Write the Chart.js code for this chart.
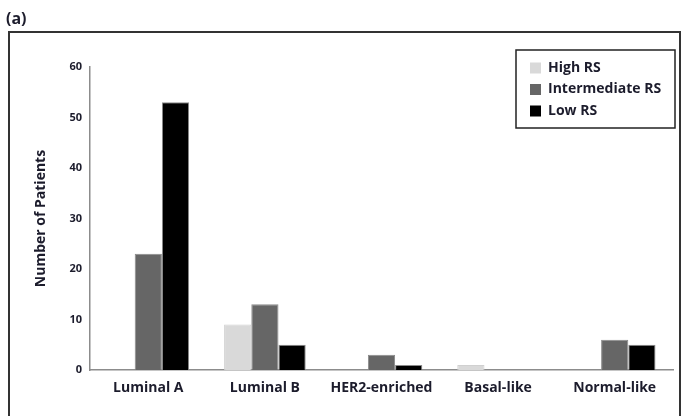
<!DOCTYPE html>
<html>
<head>
<meta charset="utf-8">
<script src="https://cdn.jsdelivr.net/npm/chart.js@4"></script>
<style>
  html, body { margin: 0; padding: 0; background: #fff; }
  #wrap { width: 683px; height: 416px; position: relative; }
</style>
</head>
<body>
<div id="wrap"><canvas id="c" width="683" height="416"></canvas></div>
<script>
// ── Data ──────────────────────────────────────────────────────────────────────
const categories   = ['Luminal A', 'Luminal B', 'HER2-enriched', 'Basal-like', 'Normal-like'];
const highRS       = [0, 9, 0, 1, 0];
const intermediate = [23, 13, 3, 0, 6];
const lowRS        = [53, 5, 1, 0, 5];
const yTicks       = [0, 10, 20, 30, 40, 50, 60];

const FONT = '"Open Sans", Lato, sans-serif';
const TEXT = '#1c1c2c';

// ── Frame + "(a)" label ───────────────────────────────────────────────────────
const framePlugin = {
  id: 'frame',
  beforeDraw(chart) {
    const ctx = chart.ctx;
    ctx.save();
    ctx.fillStyle = '#fff';
    ctx.fillRect(0, 0, chart.width, chart.height);
    ctx.strokeStyle = '#333';
    ctx.lineWidth = 2;
    ctx.strokeRect(9, 32, 671, 400);
    ctx.fillStyle = TEXT;
    ctx.font = 'bold 16px ' + FONT;
    ctx.textBaseline = 'alphabetic';
    ctx.fillText('(a)', 6, 24);
    ctx.restore();
  },
};

// ── Boxed legend, top right ───────────────────────────────────────────────────
const boxLegend = {
  id: 'boxLegend',
  afterDraw(chart) {
    const ctx = chart.ctx;
    const x = 516, y = 50, w = 159, h = 78;
    ctx.save();
    ctx.fillStyle = '#fff';
    ctx.fillRect(x, y, w, h);
    ctx.strokeStyle = '#222';
    ctx.lineWidth = 1.5;
    ctx.strokeRect(x, y, w, h);
    ctx.font = 'bold 14px ' + FONT;
    ctx.textBaseline = 'middle';
    chart.data.datasets.forEach((ds, i) => {
      const cy = 68 + i * 21.5;
      ctx.fillStyle = ds.backgroundColor;
      ctx.fillRect(530, cy - 5.5, 11, 11);
      ctx.fillStyle = TEXT;
      ctx.fillText(ds.label, 548, cy);
    });
    ctx.restore();
  },
};

new Chart(document.getElementById('c'), {
  type: 'bar',
  data: {
    labels: categories,
    datasets: [
      { label: 'High RS',         data: highRS,       backgroundColor: '#d9d9d9', borderColor: '#d0d0d0', borderWidth: 1 },
      { label: 'Intermediate RS', data: intermediate, backgroundColor: '#666666', borderColor: '#8a8a8a', borderWidth: 1 },
      { label: 'Low RS',          data: lowRS,        backgroundColor: '#000000', borderColor: '#8a8a8a', borderWidth: 1 },
    ],
  },
  options: {
    responsive: false,
    animation: false,
    layout: { padding: { left: 33, right: 10, top: 67, bottom: 0 } },
    datasets: { bar: { categoryPercentage: 0.7, barPercentage: 1.0 } },
    plugins: { legend: { display: false }, tooltip: { enabled: false } },
    scales: {
      x: {
        grid: { display: false, drawTicks: false },
        border: { display: true, color: '#8c8c8c', width: 1.5 },
        ticks: { color: TEXT, font: { family: FONT, size: 14, weight: 'bold' }, padding: 10, maxRotation: 0 },
        afterFit(s) { s.height = 46; },
      },
      y: {
        min: 0, max: 60,
        afterBuildTicks(s) { s.ticks = yTicks.map(v => ({ value: v })); },
        grid: { display: false, drawTicks: false },
        border: { display: true, color: '#8c8c8c', width: 1.5 },
        ticks: { color: TEXT, font: { family: FONT, size: 11, weight: 'bold' }, padding: 8 },
        title: {
          display: true, text: 'Number of Patients', color: TEXT,
          font: { family: FONT, size: 14, weight: 'bold' }, padding: 0,
        },
        afterFit(s) { s.width = 57; },
      },
    },
  },
  plugins: [framePlugin, boxLegend],
});
</script>
</body>
</html>
